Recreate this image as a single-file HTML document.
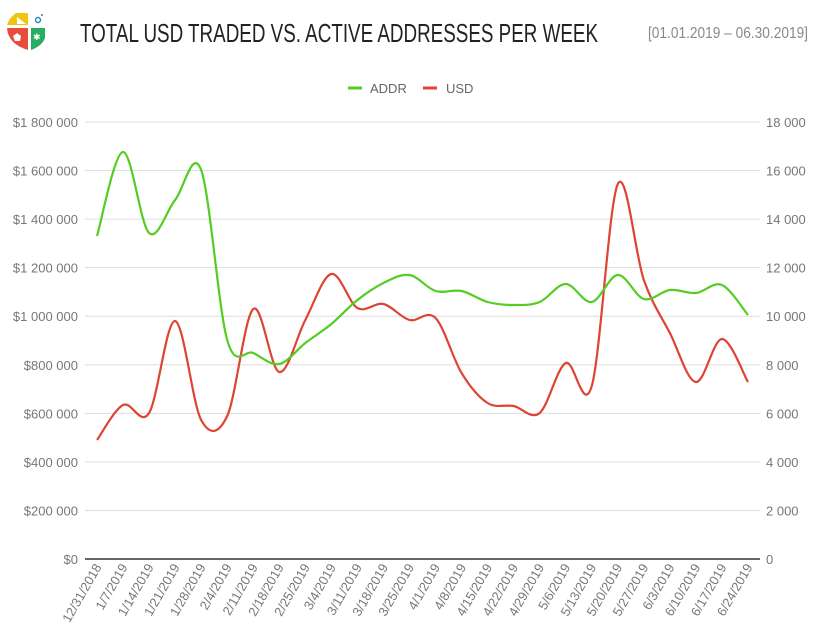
<!DOCTYPE html>
<html><head><meta charset="utf-8"><style>
body{margin:0;background:#fff;width:820px;height:637px;overflow:hidden;font-family:"Liberation Sans",sans-serif}
</style></head><body>
<svg id="s" width="820" height="637" xmlns="http://www.w3.org/2000/svg" font-family="Liberation Sans, sans-serif">
<g>
<path d="M28 13 L16 13 Q9 18 7 25 L28 25 Z" fill="#f1c40f"/>
<path d="M7 28 Q8 44 28 50 L28 28 Z" fill="#e74c3c"/>
<path d="M31 28 L31 50 Q42 46 45 38 L45 28 Z" fill="#27ae60"/>
<path d="M17 17 L26 24 L17 24 Z" fill="#fff"/>
<polygon points="17,33 21,36 20,41 15,41 13,36" fill="#fff"/>
<text x="33" y="40" font-size="9" fill="#fff">✱</text>
<circle cx="38" cy="20" r="2.5" fill="none" stroke="#2e86c1" stroke-width="1.5"/>
<circle cx="42" cy="15" r="1" fill="#2e86c1"/>
</g>
<text x="80" y="42" font-family="Liberation Sans Narrow, Liberation Sans, sans-serif" font-size="26" fill="#222" textLength="518" lengthAdjust="spacingAndGlyphs">TOTAL USD TRADED VS. ACTIVE ADDRESSES PER WEEK</text>
<text x="808" y="38" text-anchor="end" font-family="Liberation Sans Narrow, Liberation Sans, sans-serif" font-size="16" fill="#888" textLength="160" lengthAdjust="spacingAndGlyphs">[01.01.2019 – 06.30.2019]</text>
<line x1="348" y1="88" x2="362" y2="88" stroke="#55cc22" stroke-width="3"/>
<text x="370" y="93" font-size="13" fill="#666">ADDR</text>
<line x1="423" y1="88" x2="437" y2="88" stroke="#dd4433" stroke-width="3"/>
<text x="446" y="93" font-size="13" fill="#666">USD</text>
<g id="grid"></g>
<g id="lab" font-size="13" fill="#777"></g>
<path id="usd" fill="none" stroke="#dd4433" stroke-width="2.2"/>
<path id="addr" fill="none" stroke="#55cc22" stroke-width="2.2"/>
</svg>
<script>
var ns="http://www.w3.org/2000/svg";
function el(t,a,p,txt){var e=document.createElementNS(ns,t);for(var k in a)e.setAttribute(k,a[k]);if(txt!=null)e.textContent=txt;document.getElementById(p).appendChild(e);}
var L=["$0","$200 000","$400 000","$600 000","$800 000","$1 000 000","$1 200 000","$1 400 000","$1 600 000","$1 800 000"];
var R=["0","2 000","4 000","6 000","8 000","10 000","12 000","14 000","16 000","18 000"];
for(var i=0;i<10;i++){var y=559-i*48.56;
el("line",{x1:85,x2:760,y1:y,y2:y,stroke:i?"#ddd":"#666","stroke-width":i?1:2},"grid");
el("text",{x:78,y:y+5,"text-anchor":"end"},"lab",L[i]);
el("text",{x:766,y:y+5},"lab",R[i]);}
var D=["12/31/2018","1/7/2019","1/14/2019","1/21/2019","1/28/2019","2/4/2019","2/11/2019","2/18/2019","2/25/2019","3/4/2019","3/11/2019","3/18/2019","3/25/2019","4/1/2019","4/8/2019","4/15/2019","4/22/2019","4/29/2019","5/6/2019","5/13/2019","5/20/2019","5/27/2019","6/3/2019","6/10/2019","6/17/2019","6/24/2019"];
var X=[];for(var i=0;i<26;i++){X.push(97+i*26.04);
el("text",{x:0,y:0,transform:"translate("+(X[i]+5)+",567) rotate(-60)","text-anchor":"end"},"lab",D[i]);}
var U=[440,405,413,321,420,416,309,372,320,274,308,304,320,318,373,403,406,413,363,386,184,280,333,382,339,382];
var A=[236,152,233,200,170,340,353,364,343,324,300,283,275,291,291,302,305,302,284,302,275,299,290,293,285,315];
function path(Y){var d="M"+X[0]+" "+Y[0];for(var i=0;i<25;i++){var p0=i?i-1:0,p3=i<24?i+2:25;
var c1x=X[i]+(X[i+1]-X[p0])/6,c1y=Y[i]+(Y[i+1]-Y[p0])/6,c2x=X[i+1]-(X[p3]-X[i])/6,c2y=Y[i+1]-(Y[p3]-Y[i])/6;
d+=" C"+c1x+" "+c1y+" "+c2x+" "+c2y+" "+X[i+1]+" "+Y[i+1];}return d;}
document.getElementById("usd").setAttribute("d",path(U));
document.getElementById("addr").setAttribute("d",path(A));
</script>
</body></html>
